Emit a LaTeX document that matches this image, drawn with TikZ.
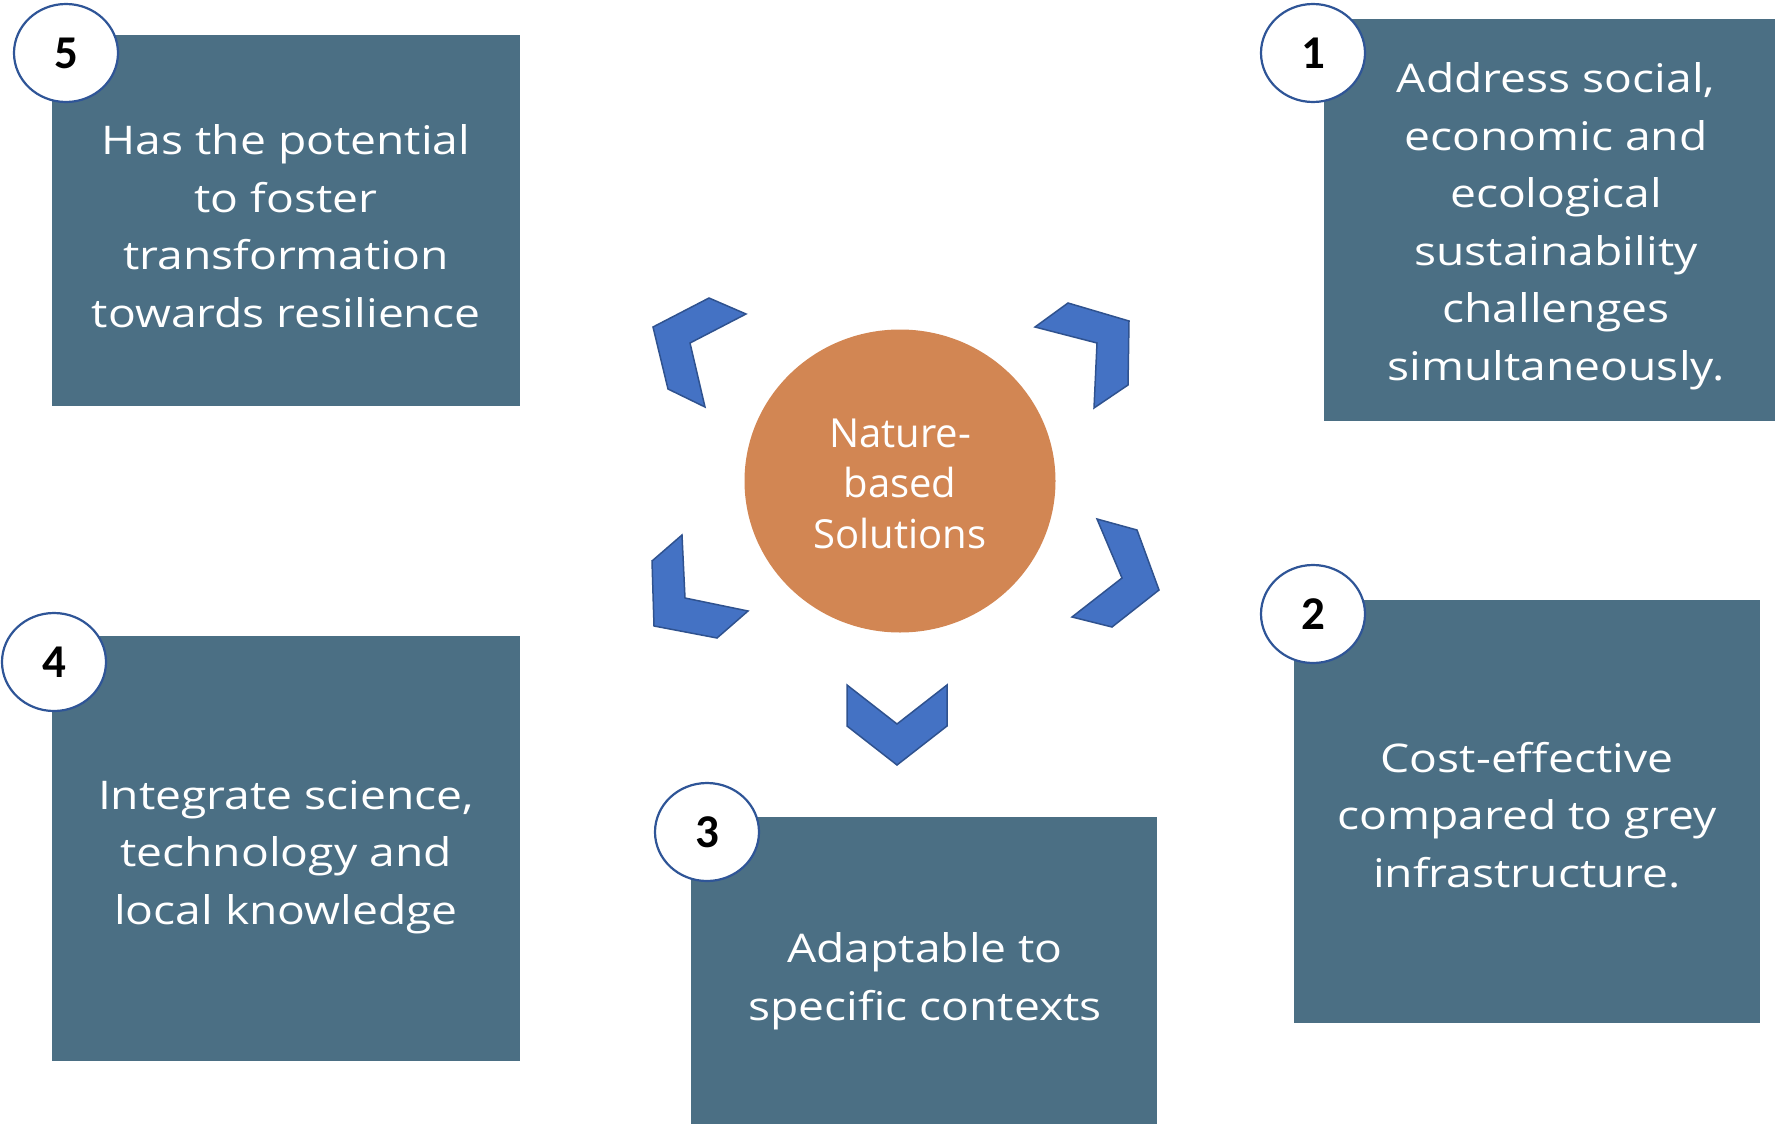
\documentclass[tikz,border=0pt]{standalone}
\usepackage{fontspec}
\setmainfont{Open Sans}[FakeStretch=1.17]
\newfontfamily\centerfont{Open Sans}
\newfontfamily\numfont{Carlito}
\usetikzlibrary{shapes.geometric}
\definecolor{boxblue}{HTML}{4B6F84}
\definecolor{chevfill}{HTML}{4472C4}
\definecolor{chevline}{HTML}{2F528F}
\definecolor{nbsorange}{HTML}{D28653}
\definecolor{ringblue}{HTML}{2F5597}
\tikzset{
  panel/.style={fill=boxblue, draw=none, inner sep=0pt, anchor=north west},
  numbadge/.style={ellipse, draw=ringblue, line width=2.2pt, fill=white,
    minimum width=104pt, minimum height=98pt, inner sep=0pt,
    font=\numfont\bfseries\fontsize{47}{47}\selectfont},
  paneltext/.style={text=white, align=center, inner sep=0pt, anchor=base,
    font=\fontsize{39.5}{57.5}\selectfont},
  chevron/.style={fill=chevfill, draw=chevline, line width=1.5pt, line join=miter},
  hub/.style={ellipse, fill=nbsorange, draw=none, minimum width=311pt, minimum height=303pt, inner sep=0pt},
  hubtext/.style={text=white, align=center, inner sep=0pt, anchor=base,
    font=\centerfont\fontsize{40}{50.5}\selectfont}
}
\begin{document}
\begin{tikzpicture}[x=1pt, y=-1pt]
\useasboundingbox (0,0) rectangle (1775,1124);
% panels
\node[panel, minimum width=468pt, minimum height=371pt] (p5) at (52,35) {};
\node[panel, minimum width=451pt, minimum height=402pt] (p1) at (1324,19) {};
\node[panel, minimum width=466pt, minimum height=423pt] (p2) at (1294,600) {};
\node[panel, minimum width=468pt, minimum height=425pt] (p4) at (52,636) {};
\node[panel, minimum width=466pt, minimum height=307pt] (p3) at (691,817) {};
% panel texts (anchored at the baseline of the last line)
\node[paneltext] (t5) at (286,327) {Has the potential\\to foster\\transformation\\towards resilience};
\node[paneltext] (t1) at (1556,380) {Address social,\\economic and\\ecological\\sustainability\\challenges\\simultaneously.};
\node[paneltext] (t2) at (1527,887) {Cost-effective\\compared to grey\\infrastructure.};
\node[paneltext] (t3) at (925,1020) {Adaptable to\\specific contexts};
\node[paneltext] (t4) at (286,924) {Integrate science,\\technology and\\local knowledge};
% number badges
\node[numbadge] (n5) at (66,53) {5};
\node[numbadge] (n1) at (1313,53) {1};
\node[numbadge] (n2) at (1313,614) {2};
\node[numbadge] (n4) at (54,662) {4};
\node[numbadge] (n3) at (707,832) {3};
% hub
\node[hub] (hub) at (900,481) {};
\node[hubtext] (hubt) at (900,548) {Nature-\\based\\Solutions};
% chevrons
\draw[chevron] (653,327) -- (709,298) -- (746,314) -- (690,343) -- (705,407) -- (668,389) -- cycle;
\draw[chevron] (1035,327) -- (1068,303) -- (1129,321) -- (1128,385) -- (1094,408) -- (1097,343) -- cycle;
\draw[chevron] (1097,519) -- (1137,530) -- (1159,590) -- (1112,627) -- (1072,617) -- (1122,578) -- cycle;
\draw[chevron] (682,535) -- (685,598) -- (748,611) -- (717,638) -- (654,626) -- (652,561) -- cycle;
\draw[chevron] (847,685) -- (897,724) -- (947,685) -- (947,726) -- (897,765) -- (847,726) -- cycle;
\end{tikzpicture}
\end{document}
